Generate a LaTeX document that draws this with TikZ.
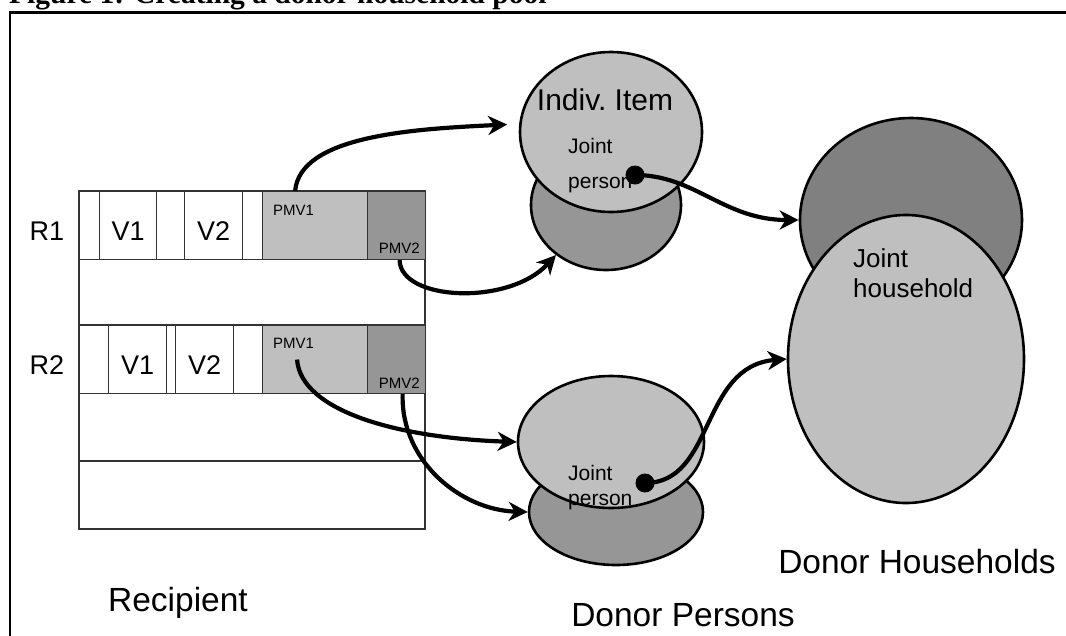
\documentclass[tikz,border=0pt]{standalone}
\usepackage{fontspec}
\setmainfont{Liberation Sans}
\newfontfamily\capfont{Liberation Serif}
\usetikzlibrary{shapes.geometric}
\usetikzlibrary{arrows.meta}
\definecolor{lightfill}{gray}{0.75}
\definecolor{midfill}{gray}{0.59}
\definecolor{darkfill}{gray}{0.5}
\tikzset{>={Stealth[length=19pt,width=19pt,inset=6pt]}}
\tikzset{tline/.style={draw=black!80, line width=1.1pt}}
\tikzset{tcell/.style={tline, inner sep=0pt, anchor=north west, minimum height=68pt}}
\tikzset{blob/.style={ellipse, draw, line width=2.6pt, inner sep=0pt}}
\tikzset{link/.style={->, line width=4.2pt}}
\tikzset{jdot/.style={circle, fill, inner sep=0pt, minimum size=19pt}}
\tikzset{rowtext/.style={inner sep=0pt, font=\fontsize{27}{32}\selectfont}}
\tikzset{pmvtext/.style={inner sep=0pt, font=\fontsize{15}{18}\selectfont}}
\tikzset{jointtext/.style={inner sep=0pt, anchor=base west, font=\fontsize{21}{25}\selectfont}}
\tikzset{grouptext/.style={inner sep=0pt, anchor=base, font=\fontsize{33.5}{40}\selectfont}}

\begin{document}
\begin{tikzpicture}[x=1pt, y=-1pt]
  \useasboundingbox (0,0) rectangle (1066,635);
  \clip (0,0) rectangle (1066,635);
  % Frame and caption
  \draw[line width=2.2pt] (10,12.5) rectangle (1100,700);
  \node[inner sep=0pt, anchor=base west, font=\capfont\bfseries\fontsize{29.5}{34}\selectfont] (caption) at (9,3) {Figure 1:  Creating a donor household pool};

  % Recipient table
  \draw[tline] (79,191) rectangle (425,529);
  \foreach \yy in {259,325,393,461} {
    \draw[tline] (79,\yy) -- (425,\yy);
  }
  \foreach \nm/\xx/\ww/\clr in {r1a/79/20/white, r1v1/99/57/white, r1b/156/28/white, r1v2/184/58/white, r1c/242/20/white, r1pmv1/262/105/lightfill, r1pmv2/367/58/midfill} {
    \node[tcell, fill=\clr, minimum width=\ww pt] (\nm) at (\xx,191) {};
  }
  \foreach \nm/\xx/\ww/\clr in {r2a/79/29/white, r2v1/108/58/white, r2b/166/9/white, r2v2/175/58/white, r2c/233/29/white, r2pmv1/262/105/lightfill, r2pmv2/367/58/midfill} {
    \node[tcell, fill=\clr, minimum width=\ww pt] (\nm) at (\xx,325) {};
  }
  \node[rowtext] (r1lab) at (47,231) {R1};
  \node[rowtext] (r2lab) at (47,365) {R2};
  \node[rowtext] at ([yshift=-6pt]r1v1.center) {V1};
  \node[rowtext] at ([yshift=-6pt]r1v2.center) {V2};
  \node[rowtext] at ([yshift=-6pt]r2v1.center) {V1};
  \node[rowtext] at ([yshift=-6pt]r2v2.center) {V2};
  \node[pmvtext, anchor=base west] at (273,215) {PMV1};
  \node[pmvtext, anchor=base east] at (420,253) {PMV2};
  \node[pmvtext, anchor=base west] at (273,348) {PMV1};
  \node[pmvtext, anchor=base east] at (420,388) {PMV2};

  % Donor persons
  \node[blob, fill=midfill, minimum width=150pt, minimum height=130pt] (pAlow) at (606,205) {};
  \node[blob, fill=lightfill, minimum width=182pt, minimum height=160pt] (pA) at (611,132) {};
  \node[blob, fill=midfill, minimum width=174pt, minimum height=106pt] (pBlow) at (616,512) {};
  \node[blob, fill=lightfill, minimum width=186pt, minimum height=132pt] (pB) at (611,442) {};
  \node[inner sep=0pt, anchor=base, font=\fontsize{30}{36}\selectfont] (item) at (605,110) {Indiv.\ Item};
  \node[jointtext] at (568,153) {Joint};
  \node[jointtext] at (568,188) {person};
  \node[jointtext] at (568,480) {Joint};
  \node[jointtext] at (568,505) {person};

  % Donor households
  \node[blob, fill=darkfill, minimum width=222pt, minimum height=204pt] (hDark) at (911,220) {};
  \node[blob, fill=lightfill, minimum width=236pt, minimum height=288pt] (hLight) at (906,359) {};
  \node[jointtext, font=\fontsize{26}{30}\selectfont] at (853,267) {Joint};
  \node[jointtext, font=\fontsize{26}{30}\selectfont] at (853,297) {household};

  % Group names
  \node[grouptext] (recip) at (178,611) {Recipient};
  \node[grouptext] (dpers) at (683,626) {Donor Persons};
  \node[grouptext] (dhh) at (917,573) {Donor Households};

  % Links
  \node[jdot] (jdotA) at (635,175) {};
  \node[jdot] (jdotB) at (645,483) {};
  \draw[link, shorten >=12pt] (r1pmv1.120) .. controls +(5,-55) and +(-108,5) .. (pA.175);
  \draw[link] (r1pmv2.-85) .. controls +(1,41) and +(-47,51) .. (pAlow.225);
  \draw[link] ([xshift=-18pt]r2pmv1.center) .. controls +(4,52) and +(-118,-4) .. (pB.west);
  \draw[link] (r2pmv2.-80) .. controls +(-2,67) and +(-67,-2) .. (pBlow.west);
  \draw[link] (jdotA.center) .. controls +(60,0) and +(-75,0) .. (hDark.west);
  \draw[link] (jdotB.center) .. controls +(70,0) and +(-87,7) .. (hLight.west);
\end{tikzpicture}
\end{document}
